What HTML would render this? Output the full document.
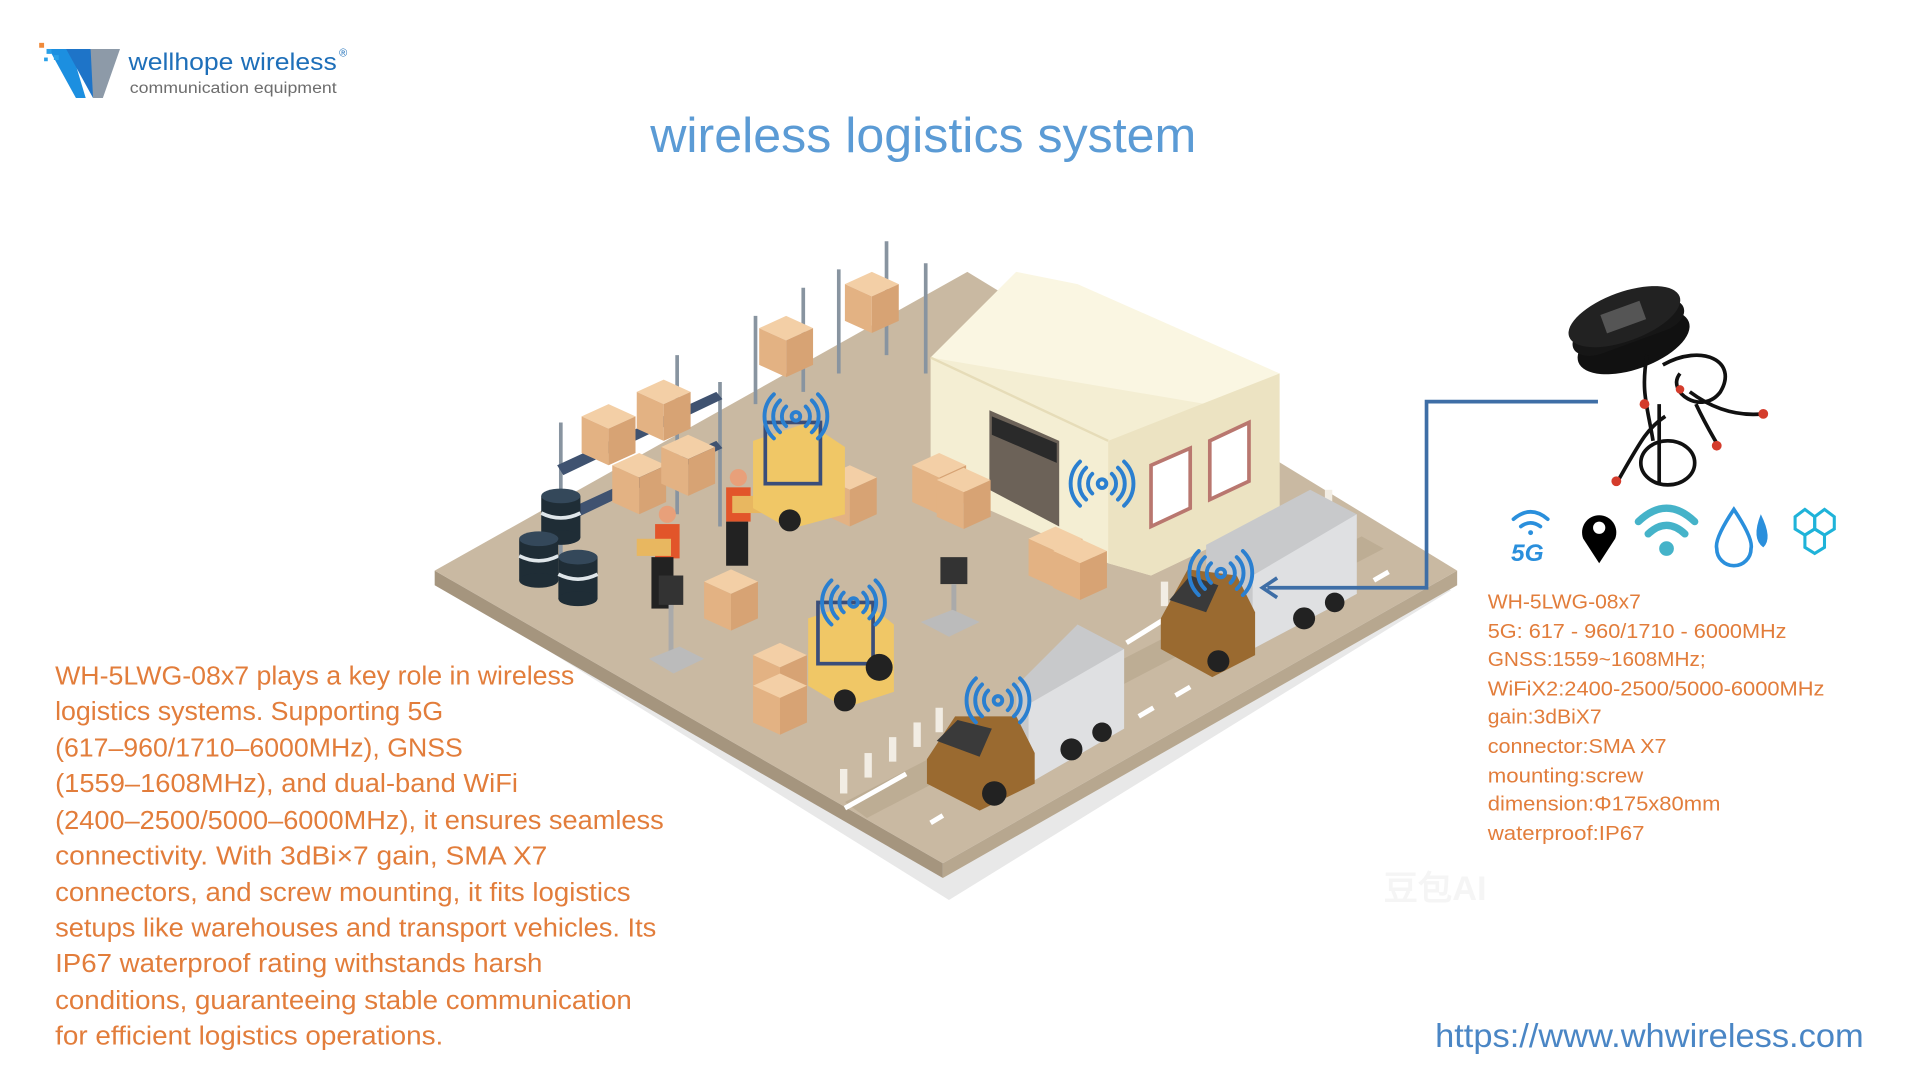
<!DOCTYPE html>
<html><head><meta charset="utf-8"><style>
html,body{margin:0;padding:0;background:#fff;}
svg{display:block;}
text{font-family:"Liberation Sans",sans-serif;}
</style></head><body>
<svg width="1920" height="1080" viewBox="0 0 1568 882" xmlns="http://www.w3.org/2000/svg">
<defs>
<g id="sig" fill="none" stroke="#2a7fd0" stroke-width="3.2" stroke-linecap="round">
<circle cx="0" cy="0" r="3.5" fill="none"/>
<path d="M-8,-8 A11,11 0 0 0 -8,8 M8,-8 A11,11 0 0 1 8,8"/>
<path d="M-13,-13 A18,18 0 0 0 -13,13 M13,-13 A18,18 0 0 1 13,13"/>
<path d="M-18,-18 A25,25 0 0 0 -18,18 M18,-18 A25,25 0 0 1 18,18"/>
</g>
<g id="box"><polygon points="0,0 22,-10 44,0 22,10" fill="#f3cfa6"/><polygon points="0,0 22,10 22,40 0,30" fill="#e3b283"/><polygon points="22,10 44,0 44,30 22,40" fill="#d7a374"/></g>
<g id="barrel"><rect x="-16" y="0" width="32" height="34" fill="#1f2d36"/><ellipse cx="0" cy="34" rx="16" ry="6" fill="#1f2d36"/><ellipse cx="0" cy="0" rx="16" ry="6" fill="#34485a"/><path d="M-16,14 Q0,22 16,14" stroke="#dfe6ea" stroke-width="3" fill="none"/></g>
</defs>

<!-- logo -->
<polygon points="40,40 58,40 70,80 62,80" fill="#1c8fe0"/>
<polygon points="54,40 74,40 84,64 76,80" fill="#1e74c8"/>
<polygon points="74,40 98,40 84,80 76,80" fill="#8d9aa8"/>
<rect x="32" y="35" width="4" height="4" fill="#f08a3a"/><rect x="38" y="40" width="4" height="4" fill="#2aa0e8"/><rect x="44" y="45" width="4" height="4" fill="#2aa0e8"/><rect x="36" y="47" width="3" height="3" fill="#2aa0e8"/>
<text x="105" y="57" font-size="20" fill="#1e6fb9" textLength="170" lengthAdjust="spacingAndGlyphs">wellhope wireless</text>
<text x="277" y="46" font-size="9" fill="#1e6fb9">®</text>
<text x="106" y="76" font-size="12.5" fill="#6d6d6d" textLength="169" lengthAdjust="spacingAndGlyphs">communication equipment</text>

<!-- title -->
<text x="531" y="124" font-size="40" fill="#5b9bd5" textLength="446" lengthAdjust="spacingAndGlyphs">wireless logistics system</text>

<!-- platform -->
<polygon points="362,478 775,735 1185,482 770,240" fill="#e8e8e8"/>
<polygon points="355,466 770,705 770,717 355,478" fill="#a5957e"/>
<polygon points="770,705 1190,466 1190,478 770,717" fill="#b7a78f"/>
<polygon points="355,466 790,222 1190,466 770,705" fill="#c9b9a2"/>
<!-- road -->
<polygon points="690,655 1112,438 1130,448 708,668" fill="#bdad94"/>
<g stroke="#fff" stroke-width="4">
<line x1="760" y1="672" x2="770" y2="666"/><line x1="790" y1="655" x2="800" y2="649"/><line x1="930" y1="585" x2="942" y2="578"/><line x1="960" y1="568" x2="972" y2="561"/><line x1="1095" y1="490" x2="1107" y2="483"/><line x1="1122" y1="474" x2="1134" y2="467"/>
<line x1="690" y1="660" x2="740" y2="632"/><line x1="920" y1="525" x2="960" y2="500"/>
</g>
<!-- building -->
<polygon points="760,292 830,222 1045,305 1045,420 940,470 905,460 760,395" fill="#f4eed3"/>
<polygon points="830,222 880,232 1045,305 985,330 760,292" fill="#faf6e2"/>
<polygon points="905,360 1045,305 1045,420 940,470 905,460" fill="#ece3c2"/>
<line x1="760" y1="292" x2="905" y2="360" stroke="#e6dcb8" stroke-width="2"/>
<polygon points="808,335 865,360 865,430 808,400" fill="#6c6258"/>
<polygon points="810,340 863,362 863,378 810,355" fill="#2a2a2a"/>
<polygon points="940,380 972,366 972,415 940,430" fill="#fff" stroke="#b9776f" stroke-width="3"/>
<polygon points="988,360 1020,345 1020,393 988,408" fill="#fff" stroke="#b9776f" stroke-width="3"/>
<!-- shelves -->
<g stroke="#8894a0" stroke-width="3">
<line x1="458" y1="345" x2="458" y2="470"/><line x1="553" y1="290" x2="553" y2="420"/><line x1="588" y1="312" x2="588" y2="430"/>
<line x1="617" y1="258" x2="617" y2="330"/><line x1="656" y1="235" x2="656" y2="320"/><line x1="685" y1="220" x2="685" y2="305"/><line x1="724" y1="197" x2="724" y2="290"/><line x1="756" y1="215" x2="756" y2="305"/>
</g>
<polygon points="455,380 585,320 590,326 460,388" fill="#3f5270"/>
<polygon points="455,420 585,360 590,366 460,428" fill="#3f5270"/>
<use href="#box" x="475" y="340"/><use href="#box" x="520" y="320"/><use href="#box" x="500" y="380"/><use href="#box" x="540" y="365"/>
<use href="#box" x="620" y="268"/><use href="#box" x="690" y="232"/>
<use href="#box" x="672" y="390"/><use href="#box" x="745" y="380"/><use href="#box" x="765" y="392"/><use href="#box" x="840" y="440"/><use href="#box" x="860" y="450"/>
<use href="#box" x="575" y="475"/><use href="#box" x="615" y="535"/><use href="#box" x="615" y="560"/>
<!-- barrels -->
<use href="#barrel" x="458" y="405"/><use href="#barrel" x="440" y="440"/><use href="#barrel" x="472" y="455"/>
<!-- workers -->
<circle cx="603" cy="390" r="7" fill="#e8a07a"/><rect x="593" y="398" width="20" height="28" fill="#e2552a"/><rect x="593" y="426" width="18" height="36" fill="#222"/>
<circle cx="545" cy="420" r="7" fill="#e8a07a"/><rect x="535" y="428" width="20" height="28" fill="#e2552a"/><rect x="532" y="455" width="18" height="42" fill="#222"/>
<rect x="520" y="440" width="28" height="14" fill="#e8b760"/><rect x="598" y="405" width="28" height="14" fill="#e8b760"/>
<!-- forklifts -->
<polygon points="615,360 660,345 690,365 690,420 645,432 615,415" fill="#f0c766"/><rect x="625" y="345" width="45" height="50" fill="none" stroke="#3a4e7a" stroke-width="3"/><circle cx="645" cy="425" r="9" fill="#222"/>
<polygon points="660,505 705,490 730,510 730,565 690,578 660,560" fill="#f0c766"/><rect x="668" y="492" width="45" height="50" fill="none" stroke="#3a4e7a" stroke-width="3"/><circle cx="718" cy="545" r="11" fill="#222"/><circle cx="690" cy="572" r="9" fill="#222"/>
<!-- kiosks -->
<rect x="768" y="455" width="22" height="22" fill="#333"/><line x1="779" y1="477" x2="779" y2="505" stroke="#aaa" stroke-width="4"/><polygon points="752,508 778,498 800,508 775,520" fill="#bbb"/>
<rect x="538" y="470" width="20" height="24" fill="#333"/><line x1="548" y1="494" x2="548" y2="535" stroke="#aaa" stroke-width="4"/><polygon points="530,538 555,528 575,538 550,550" fill="#bbb"/>
<!-- bollards -->
<g fill="#f2ede4"><rect x="686" y="628" width="6" height="20"/><rect x="706" y="615" width="6" height="20"/><rect x="726" y="602" width="6" height="20"/><rect x="746" y="590" width="6" height="20"/><rect x="764" y="578" width="6" height="20"/><rect x="948" y="475" width="6" height="20"/><rect x="1082" y="400" width="6" height="14"/></g>
<!-- truck 1 (back) -->
<polygon points="985,445 1070,400 1108,420 1108,485 1023,530 985,510" fill="#c8c9cb"/>
<polygon points="1023,470 1108,420 1108,485 1023,530" fill="#dfe0e2"/>
<polygon points="948,505 970,465 1010,470 1025,500 1025,535 990,553 948,530" fill="#9a6a30"/>
<polygon points="955,490 972,470 995,478 985,500" fill="#3a3a3a"/>
<circle cx="995" cy="540" r="9" fill="#222"/><circle cx="1065" cy="505" r="9" fill="#222"/><circle cx="1090" cy="492" r="8" fill="#222"/>
<!-- truck 2 (front) -->
<polygon points="830,560 880,510 918,530 918,595 840,640 830,620" fill="#c8c9cb"/>
<polygon points="840,575 918,530 918,595 840,640" fill="#dfe0e2"/>
<polygon points="757,620 780,585 830,585 845,615 845,640 800,662 757,640" fill="#9a6a30"/>
<polygon points="765,605 782,588 810,595 800,618" fill="#3a3a3a"/>
<circle cx="812" cy="648" r="10" fill="#222"/><circle cx="875" cy="612" r="9" fill="#222"/><circle cx="900" cy="598" r="8" fill="#222"/>
<!-- signals -->
<use href="#sig" x="650" y="340"/><use href="#sig" x="900" y="395"/><use href="#sig" x="697" y="492"/><use href="#sig" x="997" y="468"/><use href="#sig" x="815" y="572"/>

<!-- connector -->
<polyline points="1305,328 1165,328 1165,480 1035,480" fill="none" stroke="#3e6ea6" stroke-width="3"/>
<polyline points="1043,472 1031,480 1043,488" fill="none" stroke="#3e6ea6" stroke-width="3"/>

<!-- antenna -->
<g transform="rotate(-20 1330 268)">
<ellipse cx="1330" cy="280" rx="48" ry="22" fill="#111"/><rect x="1282" y="255" width="96" height="25" rx="20" fill="#161616"/>
<ellipse cx="1330" cy="258" rx="48" ry="20" fill="#222"/><rect x="1312" y="250" width="34" height="16" fill="#555"/>
</g>
<g fill="none" stroke="#111" stroke-width="3">
<path d="M1345,290 C1340,320 1345,330 1350,360 M1358,298 C1390,280 1420,295 1405,320 C1390,340 1360,320 1372,305"/>
<ellipse cx="1362" cy="378" rx="22" ry="18"/><line x1="1355" y1="330" x2="1355" y2="395"/>
<path d="M1320,395 C1340,360 1345,350 1360,340 M1380,320 C1400,335 1420,340 1440,338 M1385,330 C1392,345 1398,355 1402,362"/>
</g>
<g fill="#d43c2c"><circle cx="1320" cy="393" r="4"/><circle cx="1440" cy="338" r="4"/><circle cx="1402" cy="364" r="4"/><circle cx="1343" cy="330" r="4"/><circle cx="1372" cy="318" r="3.5"/></g>

<!-- icons -->
<g fill="none" stroke="#2a8fdc" stroke-width="3" stroke-linecap="round"><path d="M1236,424 Q1250,412 1264,424"/><path d="M1242,430 Q1250,424 1258,430"/></g>
<circle cx="1250" cy="435" r="2" fill="#2a8fdc"/>
<text x="1234" y="458" font-size="20" font-weight="bold" font-style="italic" fill="#2a8fdc">5G</text>
<path d="M1306,460 L1293,440 A14,14 0 1 1 1319,440 Z" fill="#000"/><circle cx="1306" cy="431" r="5" fill="#fff"/>
<g fill="none" stroke="#45b3c9" stroke-width="6" stroke-linecap="round"><path d="M1338,426 Q1361,404 1384,426"/><path d="M1346,436 Q1361,422 1376,436"/></g><circle cx="1361" cy="448" r="6" fill="#45b3c9"/>
<path d="M1416,416 Q1400,440 1402,448 A14,14 0 0 0 1430,448 Q1432,440 1416,416 Z" fill="none" stroke="#2a8fdc" stroke-width="3"/>
<path d="M1438,420 Q1448,440 1440,447 Q1430,440 1438,420 Z" fill="#2a8fdc"/>
<g fill="none" stroke="#1fb3d9" stroke-width="2.5"><polygon points="1466,422 1474,416 1482,422 1482,432 1474,437 1466,432"/><polygon points="1482,422 1490,416 1498,422 1498,432 1490,437 1482,432"/><polygon points="1474,437 1482,432 1490,437 1490,447 1482,452 1474,447"/></g>

<!-- specs -->
<g font-size="16.5" fill="#e27d3b">
<text x="1215" y="497" textLength="125" lengthAdjust="spacingAndGlyphs">WH-5LWG-08x7</text>
<text x="1215" y="521" textLength="244" lengthAdjust="spacingAndGlyphs">5G: 617 - 960/1710 - 6000MHz</text>
<text x="1215" y="544" textLength="178" lengthAdjust="spacingAndGlyphs">GNSS:1559~1608MHz;</text>
<text x="1215" y="568" textLength="275" lengthAdjust="spacingAndGlyphs">WiFiX2:2400-2500/5000-6000MHz</text>
<text x="1215" y="591" textLength="93" lengthAdjust="spacingAndGlyphs">gain:3dBiX7</text>
<text x="1215" y="615" textLength="146" lengthAdjust="spacingAndGlyphs">connector:SMA X7</text>
<text x="1215" y="639" textLength="127" lengthAdjust="spacingAndGlyphs">mounting:screw</text>
<text x="1215" y="662" textLength="190" lengthAdjust="spacingAndGlyphs">dimension:Φ175x80mm</text>
<text x="1215" y="686" textLength="128" lengthAdjust="spacingAndGlyphs">waterproof:IP67</text>
</g>

<!-- paragraph -->
<g font-size="21" fill="#e27d3b">
<text x="45" y="559" textLength="424" lengthAdjust="spacingAndGlyphs">WH-5LWG-08x7 plays a key role in wireless</text>
<text x="45" y="588" textLength="317" lengthAdjust="spacingAndGlyphs">logistics systems. Supporting 5G</text>
<text x="45" y="618" textLength="333" lengthAdjust="spacingAndGlyphs">(617–960/1710–6000MHz), GNSS</text>
<text x="45" y="647" textLength="378" lengthAdjust="spacingAndGlyphs">(1559–1608MHz), and dual-band WiFi</text>
<text x="45" y="677" textLength="497" lengthAdjust="spacingAndGlyphs">(2400–2500/5000–6000MHz), it ensures seamless</text>
<text x="45" y="706" textLength="402" lengthAdjust="spacingAndGlyphs">connectivity. With 3dBi×7 gain, SMA X7</text>
<text x="45" y="736" textLength="470" lengthAdjust="spacingAndGlyphs">connectors, and screw mounting, it fits logistics</text>
<text x="45" y="765" textLength="491" lengthAdjust="spacingAndGlyphs">setups like warehouses and transport vehicles. Its</text>
<text x="45" y="794" textLength="398" lengthAdjust="spacingAndGlyphs">IP67 waterproof rating withstands harsh</text>
<text x="45" y="824" textLength="471" lengthAdjust="spacingAndGlyphs">conditions, guaranteeing stable communication</text>
<text x="45" y="853" textLength="317" lengthAdjust="spacingAndGlyphs">for efficient logistics operations.</text>
</g>

<!-- watermark -->
<text x="1130" y="735" font-size="28" font-weight="bold" fill="#f5f5f5">豆包AI</text>

<!-- url -->
<text x="1172" y="855" font-size="27" fill="#4a86c5" textLength="350" lengthAdjust="spacingAndGlyphs">https://www.whwireless.com</text>
</svg>
</body></html>
